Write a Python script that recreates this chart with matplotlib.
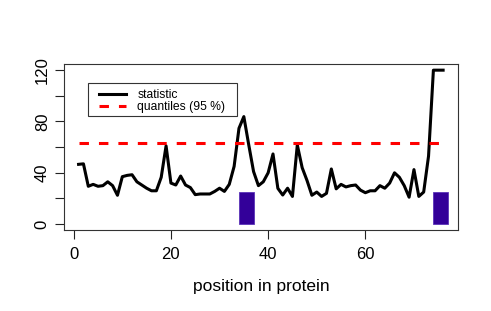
import matplotlib
matplotlib.use('Agg')
import matplotlib.pyplot as plt
from matplotlib.patches import Rectangle

plt.rcParams['font.family'] = ['Liberation Sans', 'DejaVu Sans']
plt.rcParams['lines.scale_dashes'] = False

# statistic per position (1..76)
position = list(range(1, 77))
statistic = [46.6, 47, 29.5, 31, 29.5, 30, 33, 30, 22.5, 37,
             38, 38.5, 33, 30.5, 28, 26, 26, 36.5, 61, 32,
             30.5, 37.5, 30.5, 28.5, 23, 23.5, 23.5, 23.5, 25.5, 28,
             25.5, 31, 45, 74.7, 83.8, 62, 41, 30, 33, 40,
             54.7, 27.9, 22.7, 28, 21.6, 61.7, 44, 34, 22.5, 25,
             21.6, 24, 43, 27.5, 31, 29, 30, 30.5, 26.5, 24.5,
             26, 26, 30, 28, 32, 40, 36.5, 30, 21, 42.5,
             21.6, 25, 53, 120, 120, 120]
quantile95 = 63.5
# highlighted regions (start, end, height)
regions = [(34, 37, 25), (74, 77, 25)]

fig = plt.figure(figsize=(4.91, 3.11), dpi=100)
W, H = 491, 311
ax = fig.add_axes([64/W, 1-230.3/H, (457.7-64)/W, (230.3-64)/H])

for x0, x1, h in regions:
    ax.add_patch(Rectangle((x0, 0), x1-x0, h, facecolor='#330099',
                           edgecolor='#5a33b8', linewidth=0.6, zorder=2))

ax.plot(position, statistic, color='black', lw=2.2, zorder=3, label='statistic')
ax.plot(position, [quantile95]*len(position), color='#ff0000', lw=2.2,
        dashes=(6.8, 7.2), zorder=3, label='quantiles (95 %)')

ax.set_xlim(1 - 0.04*75, 76 + 0.04*75)
ax.set_ylim(-0.04*120, 120*1.04)
ax.set_xticks([0, 20, 40, 60])
ax.set_yticks([0, 20, 40, 60, 80, 100, 120])
ax.set_yticklabels(['0', '', '40', '', '80', '', '120'], rotation=90, va='center')
ax.tick_params(direction='out', length=6.2, width=0.8, labelsize=12, color='#222222')
ax.tick_params(axis='y', pad=4)
ax.tick_params(axis='x', pad=5.8)
for s in ax.spines.values():
    s.set_linewidth(0.8)
    s.set_color('#333333')

fig.text(260.9/W, 1-286/H, 'position in protein', ha='center', va='center', fontsize=12.5)

# legend with a hand-placed frame
leg = ax.legend(frameon=False, loc='upper left',
                bbox_to_anchor=(99.3/W, 1-89/H), bbox_transform=fig.transFigure,
                borderaxespad=0, borderpad=0, handlelength=2.2, handletextpad=0.95,
                labelspacing=0.02, fontsize=8.7)
fig.patches.append(Rectangle((88.3/W, 1-116/H), (237.3-88.3)/W, (116-83.3)/H,
                             transform=fig.transFigure, fill=False,
                             edgecolor='#333333', linewidth=0.8))

fig.savefig('out.png', dpi=100)
